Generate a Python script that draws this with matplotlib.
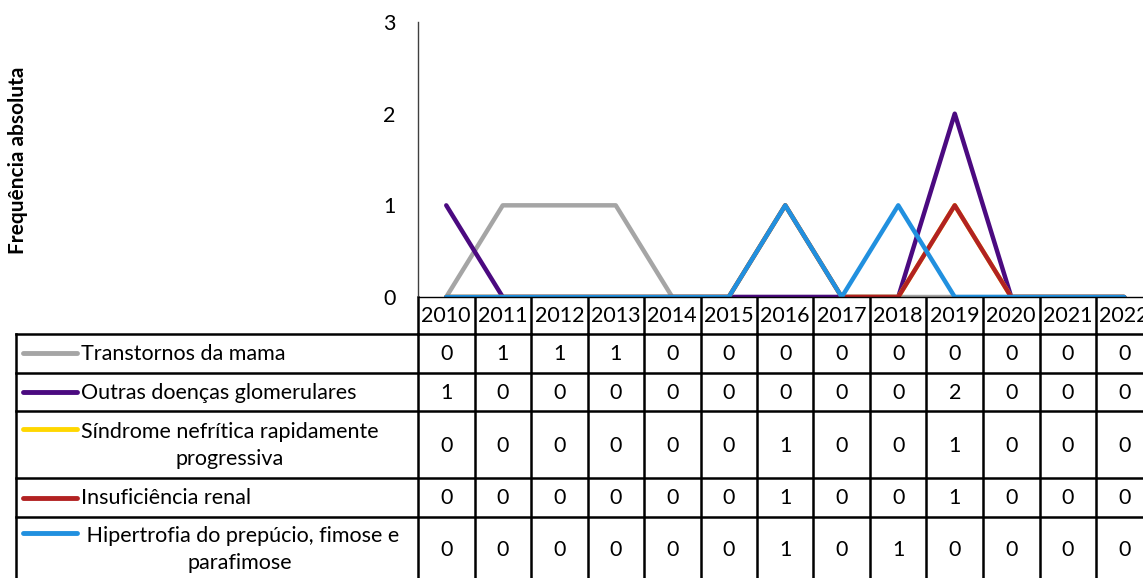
import matplotlib.pyplot as plt
from matplotlib import transforms

plt.rcParams['font.family'] = ['Lato', 'DejaVu Sans']

years = [str(y) for y in range(2010, 2023)]
mama = [0, 1, 1, 1, 0, 0, 0, 0, 0, 0, 0, 0, 0]
glomerulares = [1, 0, 0, 0, 0, 0, 0, 0, 0, 2, 0, 0, 0]
nefritica = [0, 0, 0, 0, 0, 0, 1, 0, 0, 1, 0, 0, 0]
renal = [0, 0, 0, 0, 0, 0, 1, 0, 0, 1, 0, 0, 0]
fimose = [0, 0, 0, 0, 0, 0, 1, 0, 1, 0, 0, 0, 0]

labels = ["Transtornos da mama", "Outras doenças glomerulares",
          "Síndrome nefrítica rapidamente\nprogressiva", "Insuficiência renal",
          " Hipertrofia do prepúcio, fimose e\nparafimose"]
series = [mama, glomerulares, nefritica, renal, fimose]
colors = ['#A5A5A5', '#4B0A80', '#FFD700', '#B22222', '#2190DF']

W, H = 1143, 578
fs = 15.5
fig = plt.figure(figsize=(W / 100, H / 100), dpi=100)

# layout in pixels
ax_left, col_w = 418, 56.5
ax_top, ax_bot = 22, 297
ax_right = ax_left + col_w * len(years)
ax = fig.add_axes([ax_left / W, (H - ax_bot) / H, (ax_right - ax_left) / W, (ax_bot - ax_top) / H])

x = list(range(len(years)))
for vals, c in zip(series, colors):
    ax.plot(x, vals, color=c, lw=3.2, solid_capstyle='round', solid_joinstyle='round')

ax.set_xlim(-0.5, len(years) - 0.5)
ax.set_ylim(0, 3)
ax.set_yticks([0, 1, 2, 3])
ax.set_xticks([])
ax.tick_params(axis='y', length=0, pad=16, labelsize=fs)
for s in ['top', 'right']:
    ax.spines[s].set_visible(False)
ax.spines['left'].set_color('#404040')
ax.spines['left'].set_linewidth(1)
ax.spines['bottom'].set_color('black')
ax.spines['bottom'].set_linewidth(1)
ax.patch.set_alpha(0)

fig.text(18 / W, (H - 160) / H, "Frequência absoluta", rotation=90, fontsize=15,
         fontweight='bold', ha='center', va='center')

# table overlay in pixel coords
tb = fig.add_axes([0, 0, 1, 1], zorder=-1)
tb.set_xlim(0, W)
tb.set_ylim(H, 0)
tb.axis('off')
trans = transforms.blended_transform_factory(ax.transData, tb.transData)

row_edges = [334, 372.5, 411, 478, 517, 600]
hdr_top = 297
lw = 1.8

# header row
for i in range(len(years) + 1):
    tb.plot([i - 0.5, i - 0.5], [hdr_top, row_edges[0]], color='black', lw=lw, transform=trans)
for i, yr in enumerate(years):
    tb.text(i, (hdr_top + row_edges[0]) / 2 + 1, yr, ha='center', va='center', fontsize=fs,
            transform=trans)

# body rows
for y in row_edges[:-1]:
    tb.plot([16, ax_right], [y, y], color='black', lw=lw)
tb.plot([16, 16], [row_edges[0], row_edges[-1]], color='black', lw=lw)
for i in range(len(years) + 1):
    tb.plot([i - 0.5, i - 0.5], [row_edges[0], row_edges[-1]], color='black', lw=lw, transform=trans)

for r, (lab, vals, c) in enumerate(zip(labels, series, colors)):
    top, bot = row_edges[r], row_edges[r + 1]
    if r == len(labels) - 1:
        bot = 578 + 2
    mid = (top + bot) / 2
    two = '\n' in lab
    key_y = mid - 16 if two else mid
    tb.plot([23, 77], [key_y, key_y], color=c, lw=3.5, solid_capstyle='round')
    tb.text(81, mid + 1, lab, ha='left', va='center', multialignment='center',
            fontsize=fs, linespacing=1.45)
    for i, v in enumerate(vals):
        tb.text(i, mid + 1, str(v), ha='center', va='center', fontsize=fs, transform=trans)

fig.savefig('out.png', dpi=100)
